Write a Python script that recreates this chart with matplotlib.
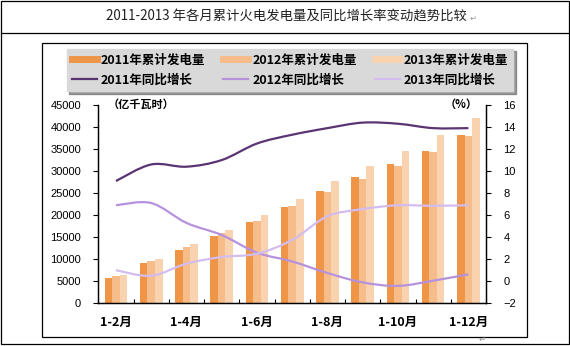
import matplotlib
matplotlib.use("Agg")
import matplotlib.pyplot as plt
import numpy as np
from matplotlib.path import Path
from matplotlib.patches import PathPatch, Rectangle
from matplotlib.lines import Line2D

plt.rcParams['font.family'] = ['Noto Sans CJK SC', 'DejaVu Sans']

# cumulative thermal generation (亿千瓦时) and YoY growth (%)
months = ['1-2月', '1-3月', '1-4月', '1-5月', '1-6月', '1-7月',
          '1-8月', '1-9月', '1-10月', '1-11月', '1-12月']
gen_2011 = [5800, 9240, 12200, 15300, 18540, 21950, 25480, 28660, 31610, 34560, 38190]
gen_2012 = [6200, 9620, 12880, 15900, 18730, 22080, 25220, 28290, 31160, 34340, 37970]
gen_2013 = [6440, 10080, 13480, 16700, 20060, 23670, 27720, 31160, 34560, 38190, 42050]
growth_2011 = [9.1, 10.6, 10.4, 11.0, 12.5, 13.3, 13.9, 14.4, 14.3, 13.9, 13.9]
growth_2012 = [6.9, 7.1, 5.3, 4.2, 2.6, 1.8, 0.75, -0.1, -0.42, 0.05, 0.63]
growth_2013 = [1.0, 0.5, 1.6, 2.2, 2.5, 3.75, 5.9, 6.55, 6.9, 6.85, 6.9]

bar_colors = ['#EE9548', '#F6BC8A', '#F9D3AF']
line_colors = ['#5B3474', '#B692DC', '#D4BDEE']

W, H = 570, 346
fig = plt.figure(figsize=(W / 100, H / 100), dpi=100)


def fx(px):
    return px / W


def fy(py):
    return 1 - py / H


# outer frame, title row, inner chart frame
fig.add_artist(Rectangle((fx(1), fy(344)), fx(568), 343 / H, transform=fig.transFigure,
                         fill=False, edgecolor='black', lw=0.9))
fig.add_artist(Line2D([fx(1), fx(569)], [fy(33), fy(33)], transform=fig.transFigure,
                      color='black', lw=0.9))
fig.add_artist(Rectangle((fx(42), fy(337)), fx(485), 294 / H, transform=fig.transFigure,
                         fill=False, edgecolor='black', lw=0.9))
fig.text(fx(286), fy(17), '2011-2013 年各月累计火电发电量及同比增长率变动趋势比较',
         ha='center', va='center', fontsize=9.6, color='#222222')
fig.text(fx(470), fy(18), '↵', ha='left', va='center', fontsize=6, color='#999999')
fig.text(fx(482), fy(339), '↵', ha='center', va='center', fontsize=6, color='#999999')

ax = fig.add_axes([fx(98.3), fy(303.3), fx(486 - 98.3), (303.3 - 105) / H])
ax2 = ax.twinx()

x = np.arange(len(months))
bw = 0.215
for i, (vals, c) in enumerate(zip([gen_2011, gen_2012, gen_2013], bar_colors)):
    ax.bar(x + (i - 1) * bw, vals, width=bw, color=c, edgecolor='none', zorder=2)


def smooth_path(xs, ys):
    pts = np.column_stack([xs, ys]).astype(float)
    ext = np.vstack([pts[0], pts, pts[-1]])
    verts = [pts[0]]
    codes = [Path.MOVETO]
    for i in range(len(pts) - 1):
        p0, p1, p2, p3 = ext[i], ext[i + 1], ext[i + 2], ext[i + 3]
        verts += [p1 + (p2 - p0) / 6, p2 - (p3 - p1) / 6, p2]
        codes += [Path.CURVE4] * 3
    return Path(verts, codes)


for vals, c in zip([growth_2011, growth_2012, growth_2013], line_colors):
    ax2.add_patch(PathPatch(smooth_path(x, vals), fill=False, edgecolor=c, lw=1.6,
                            capstyle='butt', zorder=3))

ax.set_xlim(-0.5, len(months) - 0.5)
ax.set_ylim(0, 45000)
ax.set_yticks(np.arange(0, 45001, 5000))
ax2.set_ylim(-2, 16)
ax2.set_yticks(np.arange(-2, 17, 2))

ax.set_xticks(x[::2])
ax.set_xticklabels(months[::2], fontsize=9, fontweight='bold')
ax.set_xticks(np.arange(-0.5, len(months), 1), minor=True)
ax.tick_params(axis='x', which='major', length=0, pad=9)
ax.tick_params(axis='x', which='minor', direction='in', length=3, width=0.8)
ax.tick_params(axis='y', direction='out', length=3.5, width=0.8, pad=9)
ax2.tick_params(axis='y', direction='out', length=3.5, width=0.8, pad=9)
for a in (ax, ax2):
    for lbl in a.get_yticklabels():
        lbl.set_family('Liberation Sans')
        lbl.set_fontsize(8)
    a.spines['top'].set_visible(False)
    for s in a.spines.values():
        s.set_linewidth(0.9)
ax.set_zorder(1)
ax2.set_zorder(2)
ax2.patch.set_visible(False)

fig.text(fx(108), fy(104), '（亿千瓦时）', ha='left', va='center', fontsize=8, fontweight='bold')
fig.text(fx(461), fy(104), '（%）', ha='center', va='center', fontsize=8, fontweight='bold')

handles = [
    Line2D([], [], color=bar_colors[0], lw=5), Line2D([], [], color=line_colors[0], lw=1.6),
    Line2D([], [], color=bar_colors[1], lw=5), Line2D([], [], color=line_colors[1], lw=1.6),
    Line2D([], [], color=bar_colors[2], lw=5), Line2D([], [], color=line_colors[2], lw=1.6),
]
labels = ['2011年累计发电量', '2011年同比增长', '2012年累计发电量', '2012年同比增长',
          '2013年累计发电量', '2013年同比增长']
leg = fig.legend(handles, labels, ncol=3, loc='center',
                 bbox_to_anchor=(fx(290), fy(70)), frameon=True, fancybox=False,
                 shadow=True, facecolor='#D9D9D9', edgecolor='#D9D9D9',
                 prop={'size': 9, 'weight': 'bold'}, handlelength=2.0,
                 handletextpad=0.3, columnspacing=1.5, labelspacing=0.55,
                 borderpad=0.4)
leg.get_frame().set_alpha(1)

fig.savefig('out.png', dpi=100)
